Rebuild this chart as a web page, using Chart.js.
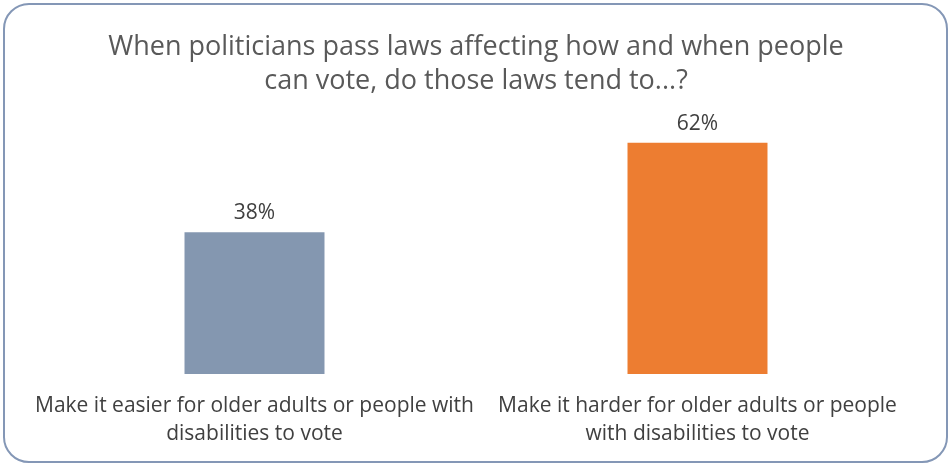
<!DOCTYPE html>
<html>
<head>
<meta charset="utf-8">
<script src="https://cdn.jsdelivr.net/npm/chart.js@4/dist/chart.umd.min.js"></script>
<style>
	html, body { margin: 0; padding: 0; background: #fff; }
	#wrap { position: relative; width: 951px; height: 466px; }
	#frame {
		position: absolute; left: 3px; top: 3px; width: 941px; height: 456px;
		border: 2px solid #8497b6; border-radius: 26px;
	}
	#chart_one { position: absolute; left: 0; top: 0; }
</style>
</head>
<body>
<div id="wrap">
	<div id="frame"></div>
	<canvas id="chart_one" width="951" height="466"></canvas>
</div>
<script>
var titleLines = ["When politicians pass laws affecting how and when people", "can vote, do those laws tend to...?"];
var categories = [
	["Make it easier for older adults or people with", "disabilities to vote"],
	["Make it harder for older adults or people", "with disabilities to vote"]
];
var shares = [38, 62];
var barColors = ["#8497b0", "#ed7d31"];

var fontFamily = "'Open Sans', sans-serif";
var textColor = "#404040";

// writes the percentage just above each bar
var valueLabels = {
	id: "valueLabels",
	afterDatasetsDraw: function(chart) {
		var ctx = chart.ctx;
		var meta = chart.getDatasetMeta(0);
		ctx.save();
		ctx.font = "21px " + fontFamily;
		ctx.fillStyle = textColor;
		ctx.textAlign = "center";
		ctx.textBaseline = "alphabetic";
		meta.data.forEach(function(bar, i) {
			ctx.fillText(shares[i] + "%", bar.x, bar.y - 13);
		});
		ctx.restore();
	}
};

var ctx_one = document.getElementById("chart_one").getContext("2d");
var chart_one = new Chart(ctx_one, {
	type: "bar",
	data: {
		labels: categories,
		datasets: [
			{
				data: shares,
				backgroundColor: barColors,
				borderWidth: 0,
				barPercentage: 0.316,
				categoryPercentage: 1
			}
		]
	},
	plugins: [valueLabels],
	options: {
		responsive: false,
		animation: false,
		layout: { padding: { left: 33, right: 32, top: 0, bottom: 0 } },
		plugins: {
			legend: { display: false },
			tooltip: { enabled: false },
			title: {
				display: true,
				text: titleLines,
				color: "#595959",
				font: { family: fontFamily, size: 27, weight: "normal", lineHeight: 1.26 },
				padding: { top: 30, bottom: 15 }
			}
		},
		scales: {
			y: { display: false, min: 0, max: 70 },
			x: {
				grid: { display: false, drawTicks: false },
				border: { display: false },
				ticks: {
					color: textColor,
					padding: 18,
					maxRotation: 0,
					autoSkip: false,
					font: { family: fontFamily, size: 21, lineHeight: 1.333 }
				}
			}
		}
	}
});
</script>
</body>
</html>
